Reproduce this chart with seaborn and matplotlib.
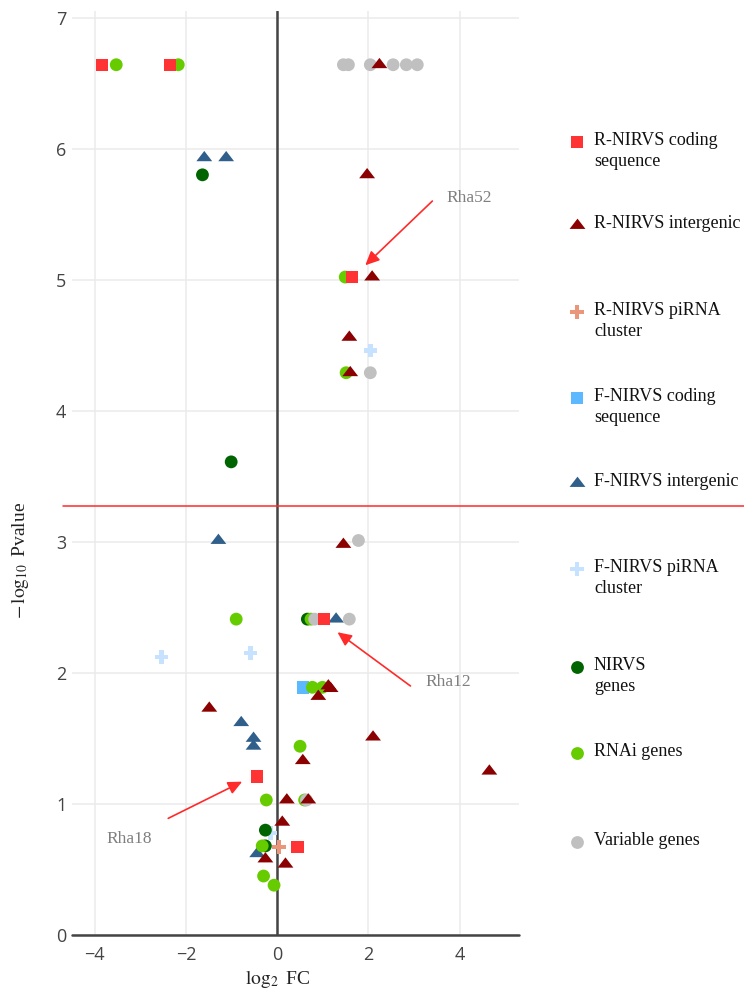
import matplotlib
matplotlib.use("Agg")
import matplotlib.pyplot as plt
from matplotlib.markers import MarkerStyle
import pandas as pd
import seaborn as sns

# ---- data: log2 fold change and -log10 p-value per feature class ----
categories = [
    "R-NIRVS coding\nsequence",
    "R-NIRVS intergenic",
    "R-NIRVS piRNA\ncluster",
    "F-NIRVS coding\nsequence",
    "F-NIRVS intergenic",
    "F-NIRVS piRNA\ncluster",
    "NIRVS\ngenes",
    "RNAi genes",
    "Variable genes",
]

r_coding_fc = [-3.84, -2.35, 1.64, 1.03, -0.44, 0.44]
r_coding_p = [6.64, 6.64, 5.02, 2.41, 1.21, 0.67]

r_inter_fc = [2.24, 1.97, 2.08, 1.58, 1.60, 1.45, 1.12, 1.17, 0.90, -1.49,
              2.10, 0.56, 4.65, 0.21, 0.68, 0.11, -0.26, 0.18]
r_inter_p = [6.64, 5.80, 5.02, 4.56, 4.29, 2.98, 1.90, 1.88, 1.82, 1.73,
             1.51, 1.33, 1.25, 1.03, 1.03, 0.86, 0.58, 0.54]

r_pirna_fc = [0.04]
r_pirna_p = [0.67]

f_coding_fc = [0.57]
f_coding_p = [1.89]

f_inter_fc = [-1.60, -1.12, -1.29, 1.29, -0.79, -0.52, -0.52, -0.44]
f_inter_p = [5.93, 5.93, 3.01, 2.41, 1.62, 1.50, 1.44, 0.62]

f_pirna_fc = [2.04, -2.54, -0.59, -0.15]
f_pirna_p = [4.46, 2.12, 2.15, 0.78]

nirvs_fc = [-1.64, -1.01, 0.66, -0.26, -0.26]
nirvs_p = [5.80, 3.61, 2.41, 0.80, 0.68]

rnai_fc = [-3.53, -2.17, 1.49, 1.51, -0.90, 0.74, 0.77, 0.99, 0.50, -0.24,
           0.60, -0.33, -0.30, -0.07]
rnai_p = [6.64, 6.64, 5.02, 4.29, 2.41, 2.41, 1.89, 1.89, 1.44, 1.03,
          1.03, 0.68, 0.45, 0.38]

variable_fc = [1.45, 1.56, 2.04, 2.54, 2.83, 3.07, 2.04, 1.78, 0.82, 1.58, 0.64]
variable_p = [6.64, 6.64, 6.64, 6.64, 6.64, 6.64, 4.29, 3.01, 2.41, 2.41, 1.03]

threshold = 3.27

# ---- styling per class ----
tri = MarkerStyle([(-1.155, -0.5), (1.155, -0.5), (0.0, 1.0), (-1.155, -0.5)])
styles = {
    categories[0]: ("#ff3333", "s", 80),
    categories[1]: ("#8b0000", tri, 130),
    categories[2]: ("#e9967a", "P", 95),
    categories[3]: ("#5cb8ff", "s", 80),
    categories[4]: ("#2f5f8a", tri, 130),
    categories[5]: ("#c6e2ff", "P", 95),
    categories[6]: ("#006400", "o", 85),
    categories[7]: ("#66cc00", "o", 85),
    categories[8]: ("#c0c0c0", "o", 85),
}

series = {
    categories[0]: (r_coding_fc, r_coding_p),
    categories[1]: (r_inter_fc, r_inter_p),
    categories[2]: (r_pirna_fc, r_pirna_p),
    categories[3]: (f_coding_fc, f_coding_p),
    categories[4]: (f_inter_fc, f_inter_p),
    categories[5]: (f_pirna_fc, f_pirna_p),
    categories[6]: (nirvs_fc, nirvs_p),
    categories[7]: (rnai_fc, rnai_p),
    categories[8]: (variable_fc, variable_p),
}

frames = []
for cat, (fc, p) in series.items():
    frames.append(pd.DataFrame({"log2FC": fc, "nlogp": p, "group": cat}))
df = pd.concat(frames, ignore_index=True)

# drawing order: F-NIRVS underneath, genes in the middle, R-NIRVS on top
draw_order = [categories[i] for i in (5, 4, 3, 6, 7, 8, 2, 1, 0)]

sns.set_style("white")
plt.rcParams["font.family"] = ["Liberation Serif", "DejaVu Sans"]
plt.rcParams["mathtext.fontset"] = "stix"

W, H = 744, 994
fig = plt.figure(figsize=(W / 100, H / 100), dpi=100)
left_px, right_px, top_px, bottom_px = 72, 519, 11, 935
ax = fig.add_axes([left_px / W, 1 - bottom_px / H,
                   (right_px - left_px) / W, (bottom_px - top_px) / H])

for cat in draw_order:
    color, marker, size = styles[cat]
    sub = df[df["group"] == cat]
    sns.scatterplot(data=sub, x="log2FC", y="nlogp", ax=ax, color=color,
                    marker=marker, s=size, linewidth=0, edgecolor="none",
                    legend=False, zorder=3)

ax.set_xlim(-4.5, 5.3)
ax.set_ylim(0, 7.05)
ax.set_xticks([-4, -2, 0, 2, 4])
ax.set_yticks(range(0, 8))
ax.grid(True, color="#ebebeb", lw=1.1, zorder=0)
ax.set_axisbelow(True)
for s in ax.spines.values():
    s.set_visible(False)
ax.tick_params(length=0, labelsize=13, labelcolor="#444444")
ax.tick_params(axis="y", pad=4)
ax.tick_params(axis="x", pad=8)
for lab in ax.get_xticklabels() + ax.get_yticklabels():
    lab.set_fontfamily(["Open Sans", "DejaVu Sans"])

# zero lines
ax.axvline(0, color="#444444", lw=1.8, zorder=2)
ax.axhline(0, color="#444444", lw=1.8, zorder=2, clip_on=False)

# significance threshold spanning into the legend area
ax.axhline(threshold, xmin=(63 - left_px) / (right_px - left_px),
           xmax=(W - left_px) / (right_px - left_px),
           color="#ff2a2a", lw=1.1, clip_on=False, zorder=2)

ax.set_xlabel(r"$\log_2$ FC", fontsize=14, color="#222222")
ax.xaxis.set_label_coords((277 - left_px) / (right_px - left_px),
                          (bottom_px - 968) / (bottom_px - top_px))
ax.set_ylabel(r"$-\,\log_{10}$ Pvalue", fontsize=14, color="#222222")
ax.yaxis.set_label_coords((31 - left_px) / (right_px - left_px),
                          (bottom_px - 560) / (bottom_px - top_px))

# labelled features
arrow_kw = dict(arrowstyle="-|>,head_length=0.6,head_width=0.28",
                color="#ff2a2a", lw=1.2, mutation_scale=14,
                shrinkA=0, shrinkB=0)
annotations = [
    ("Rha52", (1.93, 5.11), (3.40, 5.60), (3.71, 5.62), "left"),
    ("Rha12", (1.32, 2.31), (2.92, 1.90), (3.25, 1.93), "left"),
    ("Rha18", (-0.77, 1.17), (-2.39, 0.89), (-2.74, 0.73), "right"),
]
for name, tip, start, txt, ha in annotations:
    ax.annotate("", xy=tip, xytext=start, arrowprops=arrow_kw, zorder=4)
    ax.text(txt[0], txt[1], name, ha=ha, va="center", fontsize=12.5,
            color="#7f7f7f", zorder=4)

# legend column on the right
leg = fig.add_axes([0, 0, 1, 1], facecolor="none")
leg.set_xlim(0, W)
leg.set_ylim(H, 0)
leg.axis("off")
legend_rows = [142, 225, 312, 398, 483, 569, 667, 753, 842]
for cat, yrow in zip(categories, legend_rows):
    color, marker, size = styles[cat]
    leg.scatter([577], [yrow], color=color, marker=marker, s=size,
                linewidth=0)
    leg.text(594, yrow - 10, cat, ha="left", va="top", fontsize=13,
             color="#111111", linespacing=1.3)

fig.savefig("out.png", dpi=100)
